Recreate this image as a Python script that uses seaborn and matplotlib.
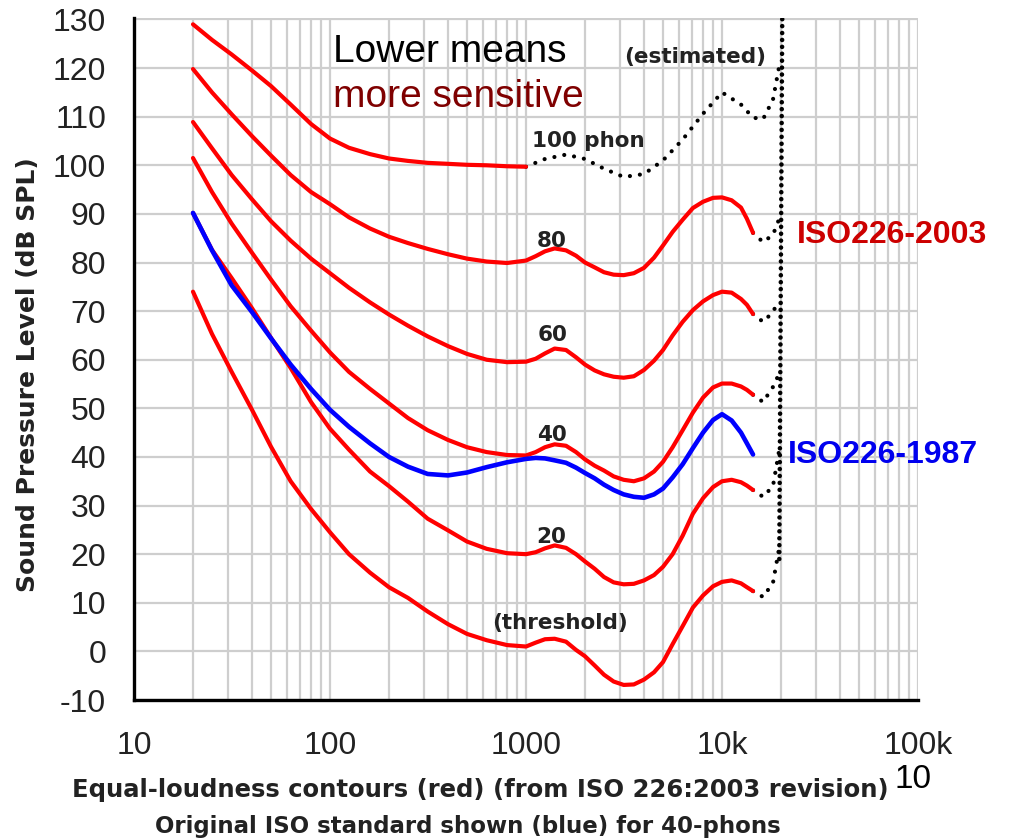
import numpy as np
import pandas as pd
import matplotlib
matplotlib.use('Agg')
import matplotlib.pyplot as plt
import seaborn as sns
from matplotlib.ticker import LogLocator, NullFormatter

freqs = [20, 25, 31.5, 40, 50, 63, 80, 100, 125, 160, 200, 250, 315, 400, 500, 630, 800,
         1000, 1120, 1250, 1400, 1600, 1800, 2000, 2240, 2500, 2800, 3150, 3550, 4000, 4500,
         5000, 5600, 6300, 7100, 8000, 9000, 10000, 11200, 12500, 13400, 14400]

# ISO 226:2003 contours (dB SPL), red
thresh = [74.0, 65.3, 57.5, 49.7, 42.1, 35.0, 29.3, 24.5, 20.0, 16.2, 13.2, 11.0, 8.2, 5.6, 3.6, 2.3, 1.3,
          1.0, 1.8, 2.5, 2.6, 2.0, 0.3, -1.0, -2.9, -4.8, -6.2, -6.9, -6.8, -5.8, -4.3,
          -2.2, 1.5, 5.2, 9.0, 11.5, 13.4, 14.3, 14.6, 14.0, 13.2, 12.4]
ph20 = [90.2, 82.6, 76.8, 70.6, 64.5, 58.3, 51.3, 45.8, 41.5, 37.0, 34.0, 30.8, 27.3, 24.9, 22.6, 21.1, 20.2,
        20.0, 20.4, 21.2, 21.8, 21.3, 20.0, 18.5, 17.0, 15.3, 14.2, 13.8, 13.9, 14.6, 15.7,
        17.4, 20.0, 23.8, 28.3, 31.5, 33.8, 35.0, 35.3, 34.8, 34.1, 33.2]
ph40 = [101.5, 94.5, 88.0, 82.0, 76.5, 71.0, 66.0, 61.5, 57.5, 54.0, 51.0, 48.0, 45.5, 43.5, 42.0, 41.0, 40.4,
        40.3, 41.0, 42.0, 42.6, 42.3, 41.0, 39.5, 38.2, 37.2, 36.0, 35.3, 35.0, 35.6, 37.0,
        39.0, 42.0, 45.5, 49.1, 52.2, 54.3, 55.1, 55.1, 54.5, 53.8, 52.8]
ph60 = [108.9, 103.5, 98.0, 93.0, 88.5, 84.5, 80.8, 77.8, 74.8, 71.8, 69.3, 67.0, 64.8, 62.8, 61.2, 60.0, 59.5,
        59.6, 60.2, 61.3, 62.3, 62.0, 60.5, 59.0, 57.8, 57.0, 56.5, 56.3, 56.6, 57.9, 59.8,
        62.0, 65.0, 67.8, 70.2, 72.0, 73.3, 74.0, 73.8, 72.5, 71.3, 69.4]
ph80 = [119.8, 115.0, 110.5, 106.0, 102.0, 98.0, 94.5, 92.0, 89.3, 87.0, 85.3, 84.0, 82.8, 81.7, 80.8, 80.2, 79.9,
        80.4, 81.3, 82.3, 82.9, 82.5, 81.4, 80.0, 79.0, 78.0, 77.5, 77.4, 77.8, 78.9, 81.0,
        83.5, 86.3, 88.8, 91.2, 92.5, 93.3, 93.4, 92.8, 91.3, 89.0, 86.1]
ph100 = [129.0, 125.8, 122.8, 119.5, 116.3, 112.5, 108.5, 105.5, 103.6, 102.3, 101.4, 100.9, 100.5,
         100.3, 100.1, 100.0, 99.8, 99.7]  # solid only up to 1 kHz

# original ISO 226:1987 40-phon curve, blue
iso1987 = [90.2, 82.5, 75.3, 69.8, 64.4, 59.0, 54.0, 49.7, 46.2, 42.8, 40.0, 38.0, 36.5, 36.2, 36.8, 37.9, 38.9,
           39.6, 39.8, 39.7, 39.3, 38.8, 37.8, 36.7, 35.6, 34.3, 33.2, 32.3, 31.8, 31.6, 32.3,
           33.5, 35.8, 38.5, 41.8, 45.0, 47.6, 48.8, 47.5, 45.0, 42.8, 40.5]

# estimated (dotted) parts
est100_f = [1000, 1250, 1600, 2000, 2500, 3150, 4000, 5000, 6300, 8000, 10000, 12500,
            14400, 16200, 18200, 19600]
est100 = [99.7, 101.3, 102.2, 101.3, 99.3, 97.6, 98.2, 101.0, 105.3, 110.6, 115.0, 112.5,
          109.8, 109.5, 113.5, 120.5]
tail_f = [14400, 16200, 18200, 19500]
tail80 = [86.1, 84.2, 85.7, 88.8]
tail60 = [69.4, 67.8, 69.8, 72.3]
tail40 = [52.8, 51.3, 54.4, 57.0]
tail20 = [33.2, 31.8, 34.0, 41.0]
tail_thr = [12.4, 11.2, 14.1, 20.9]
vert_f = [19600, 20300]
vert_db = [19.0, 131.0]

sns.set_theme(style='white')
plt.rcParams['font.family'] = ['Liberation Sans', 'DejaVu Sans']
plt.rcParams['axes.unicode_minus'] = False

red_rows = []
for name, vals in [('thr', thresh), ('20', ph20), ('40', ph40), ('60', ph60), ('80', ph80)]:
    for f, v in zip(freqs, vals):
        red_rows.append((name, f, v))
for f, v in zip(freqs[:len(ph100)], ph100):
    red_rows.append(('100', f, v))
red = pd.DataFrame(red_rows, columns=['phon', 'freq', 'db'])

dot_rows = []
for f, v in zip(est100_f, est100):
    dot_rows.append(('100', f, v))
for name, vals in [('80', tail80), ('60', tail60), ('40', tail40), ('20', tail20), ('thr', tail_thr)]:
    for f, v in zip(tail_f, vals):
        dot_rows.append((name, f, v))
dots = pd.DataFrame(dot_rows, columns=['phon', 'freq', 'db'])

fig = plt.figure(figsize=(10.12, 8.4), dpi=100)
ax = fig.add_axes([134 / 1012, 140 / 840, 784 / 1012, 682 / 840])
ax.set_xscale('log')

n0 = len(ax.lines)
sns.lineplot(data=dots, x='freq', y='db', units='phon', estimator=None, sort=False,
             color='black', lw=3, ax=ax, legend=False)
sns.lineplot(x=vert_f, y=vert_db, estimator=None, sort=False, color='black', lw=3.3, ax=ax)
for ln in ax.lines[n0:]:
    ln.set_dashes((0.01, 2.4))
    ln.set_dash_capstyle('round')
ax.lines[-1].set_dashes((0.01, 1.5))

sns.lineplot(data=red, x='freq', y='db', units='phon', estimator=None, sort=False,
             color='#ff0000', lw=3, ax=ax, legend=False, solid_joinstyle='round')
sns.lineplot(x=freqs, y=iso1987, estimator=None, sort=False, color='#0000ff', lw=3.3, ax=ax,
             solid_joinstyle='round')

ax.set_xlim(10, 1e5)
ax.set_ylim(-10, 130.3)
ax.set_xticks([10, 100, 1000, 1e4, 1e5])
ax.set_xticklabels(['10', '100', '1000', '10k', '100k'])
ax.xaxis.set_minor_locator(LogLocator(base=10, subs=np.arange(2, 10)))
ax.xaxis.set_minor_formatter(NullFormatter())
ax.set_yticks(np.arange(-10, 131, 10))
ax.set_axisbelow(True)
ax.grid(True, which='both', axis='x', color='#cecece', lw=1.6)
ax.grid(True, which='major', axis='y', color='#cecece', lw=1.6)
ax.tick_params(axis='both', which='both', length=0, labelsize=23, colors='#222222')
ax.tick_params(axis='y', pad=20)
ax.tick_params(axis='x', pad=22)
for s in ['top', 'right']:
    ax.spines[s].set_visible(False)
for s in ['left', 'bottom']:
    ax.spines[s].set_color('black')
    ax.spines[s].set_linewidth(2.4)
ax.set_xlabel('')
ax.set_ylabel('Sound Pressure Level (dB SPL)', family='DejaVu Sans', fontweight='bold',
              fontsize=18, color='#222222')
ax.yaxis.set_label_coords(-0.12, 0.4765)

lab = dict(family='DejaVu Sans', fontweight='bold', color='#222222', ha='center', va='center')
ax.text(2070, 105.0, '100 phon', fontsize=15.5, **lab)
ax.text(1360, 84.4, '80', fontsize=15.5, **lab)
ax.text(1360, 65.1, '60', fontsize=15.5, **lab)
ax.text(1360, 44.5, '40', fontsize=15.5, **lab)
ax.text(1340, 23.5, '20', fontsize=15.5, **lab)
ax.text(1490, 5.8, '(threshold)', fontsize=15.5, **lab)
ax.text(7280, 122.3, '(estimated)', fontsize=15.5, **lab)

fig.text(333 / 1012, 1 - 62 / 840, 'Lower means', fontsize=28, color='black', va='baseline')
fig.text(333 / 1012, 1 - 107 / 840, 'more sensitive', fontsize=28, color='#7f0000', va='baseline')
fig.text(797 / 1012, 1 - 235 / 840, 'ISO226-2003', fontsize=23, fontweight='bold',
         color='#cc0000', va='center')
fig.text(788 / 1012, 1 - 455 / 840, 'ISO226-1987', fontsize=23, fontweight='bold',
         color='#0000ee', va='center')

fig.text(480 / 1012, 1 - 790 / 840, 'Equal-loudness contours (red) (from ISO 226:2003 revision)',
         family='DejaVu Sans', fontweight='bold', fontsize=17.5, color='#222222',
         ha='center', va='center')
fig.text(468 / 1012, 1 - 826 / 840, 'Original ISO standard shown (blue) for 40-phons',
         family='DejaVu Sans', fontweight='bold', fontsize=16.5, color='#222222',
         ha='center', va='center')
fig.text(913 / 1012, 1 - 780 / 840, '10', fontsize=24, color='black', ha='center', va='center')

fig.savefig('out.png', dpi=100, facecolor='white')
